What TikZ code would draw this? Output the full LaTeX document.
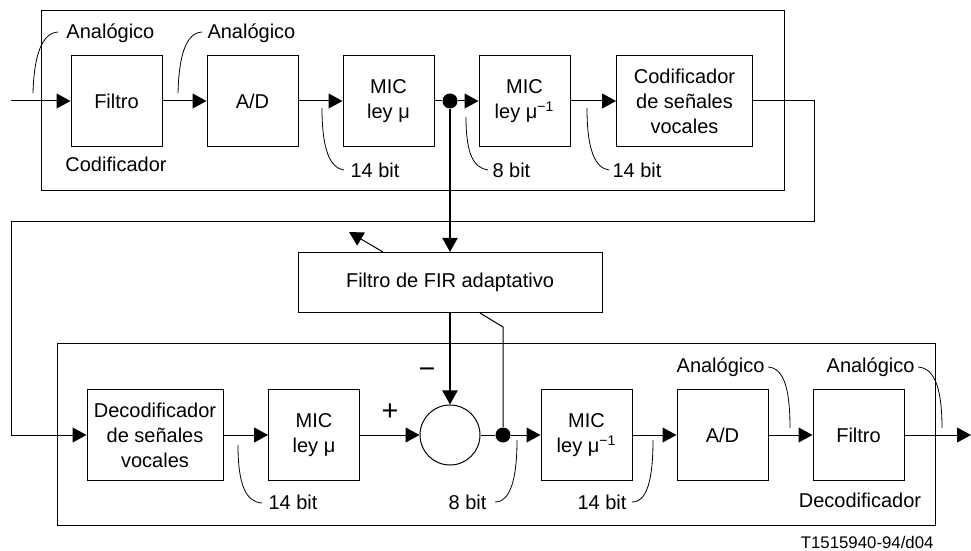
\documentclass[tikz,border=0pt]{standalone}
\usepackage{fontspec}
\setmainfont{Liberation Sans}
\usetikzlibrary{arrows.meta,positioning}

\begin{document}
\begin{tikzpicture}[
                        x=0.5pt, y=-0.5pt,
                        node distance=68pt,
                        >={Triangle[length=7pt,width=7.5pt]},
                        line width=0.5pt,
                        font=\fontsize{10}{12.5}\selectfont,
                        block/.style={rectangle, draw, align=center, minimum height=45.5pt, minimum width=45.5pt, inner sep=1pt},
                        wideblock/.style={block, minimum width=68pt},
                        junction/.style={circle, fill, inner sep=0pt, minimum size=7.5pt},
                        note/.style={inner sep=0pt},
                        leader/.style={line width=0.4pt}
                    ]
                    \useasboundingbox (0,0) rectangle (971,551);

                    % Frames
                    \draw (41,11) rectangle (784,191);
                    \draw (57,344) rectangle (935,525);

                    % Blocks (coder)
                    \node [coordinate] (in) at (11,101) {};
                    \node [block] (filtroA) at (116.5,101) {Filtro};
                    \node [block, right of=filtroA] (adA) {A/D};
                    \node [block, right of=adA] (micA) {MIC\\ley μ};
                    \node [block, right of=micA] (micinvA) {MIC\\ley μ\textsuperscript{−1}};
                    \node [wideblock, right of=micinvA, node distance=80pt] (codif) {Codificador\\de señales\\vocales};
                    \node [block, minimum width=152pt, minimum height=30pt] (fir) at (450,282.5) {Filtro de FIR adaptativo};
                    \node [junction] (jA) at (fir |- filtroA) {};

                    % Blocks (decoder)
                    \node [wideblock] (decod) at (155,435) {Decodificador\\de señales\\vocales};
                    \node [block, right of=decod, node distance=79.5pt] (micB) {MIC\\ley μ};
                    \node [circle, draw, minimum size=30pt, inner sep=0pt, right of=micB] (sum) {};
                    \node [junction, right of=sum, node distance=26.5pt] (jB) {};
                    \node [block, right of=sum, node distance=68.25pt] (micinvB) {MIC\\ley μ\textsuperscript{−1}};
                    \node [block, right of=micinvB] (adB) {A/D};
                    \node [block, right of=adB] (filtroB) {Filtro};
                    \node [coordinate] (out) at (971,435) {};

                    \coordinate (r1) at (814,101);
                    \coordinate (r2) at (11,222);
                    \coordinate (adapt) at (349,232);
                    \coordinate (err) at (503,327);

                    % Connections
                    \draw [->] (in) -- (filtroA);
                    \draw [->] (filtroA) -- (adA);
                    \draw [->] (adA) -- (micA);
                    \draw (micA) -- (jA);
                    \draw [->] (jA) -- (micinvA);
                    \draw [->] (micinvA) -- (codif);
                    \draw [->] (codif) -- (r1) |- (r2) |- (decod);
                    \draw [->, line width=1pt] (jA) -- (fir);
                    \draw [->] ([xshift=-33.5pt]fir.north) -- (adapt);
                    \draw [->, line width=1pt] (fir) -- (sum);
                    \draw ([xshift=15pt]fir.south) -- (err) -- (jB);
                    \draw [->] (decod) -- (micB);
                    \draw [->] (micB) -- (sum);
                    \draw (sum) -- (jB);
                    \draw [->] (jB) -- (micinvB);
                    \draw [->] (micinvB) -- (adB);
                    \draw [->] (adB) -- (filtroB);
                    \draw [->] (filtroB) -- (out);

                    % Labels
                    \draw [leader] (33,93) .. controls (34,55) and (42,33) .. (58,32);
                    \node [note, anchor=west] at (66,33) {Analógico};
                    \draw [leader] (178,93) .. controls (179,55) and (186,33) .. (202,32);
                    \node [note, anchor=west] at (207,33) {Analógico};
                    \node [note] at (116,164) {Codificador};
                    \draw [leader] (322,108) .. controls (322,150) and (330,168) .. (344,170);
                    \node [note, anchor=west] at (350,170) {14 bit};
                    \draw [leader] (466,117) .. controls (466,155) and (474,168) .. (488,170);
                    \node [note, anchor=west] at (492,170) {8 bit};
                    \draw [leader] (587,108) .. controls (587,150) and (595,168) .. (609,170);
                    \node [note, anchor=west] at (612,170) {14 bit};

                    \draw [leader] (238,445) .. controls (238,485) and (246,502) .. (262,503);
                    \node [note, anchor=west] at (268,502) {14 bit};
                    \node [note, anchor=east] at (487,502) {8 bit};
                    \draw [leader] (495,502) .. controls (510,502) and (517,480) .. (517,440);
                    \node [note, anchor=east] at (627,502) {14 bit};
                    \draw [leader] (632,502) .. controls (647,502) and (653,480) .. (653,440);
                    \node [note, anchor=east] at (765,367) {Analógico};
                    \draw [leader] (768,367) .. controls (785,368) and (790,392) .. (790,428);
                    \node [note, anchor=east] at (915,367) {Analógico};
                    \draw [leader] (918,367) .. controls (936,368) and (942,392) .. (942,428);
                    \node [note] at (860,500) {Decodificador};
                    \node [note] at (390,412) {\Large +};
                    \node [note] at (427,373) {\Large −};
                    \node [note, anchor=east, font=\fontsize{8.4}{10}\selectfont] at (934,542) {T1515940-94/d04};
                \end{tikzpicture}
\end{document}
